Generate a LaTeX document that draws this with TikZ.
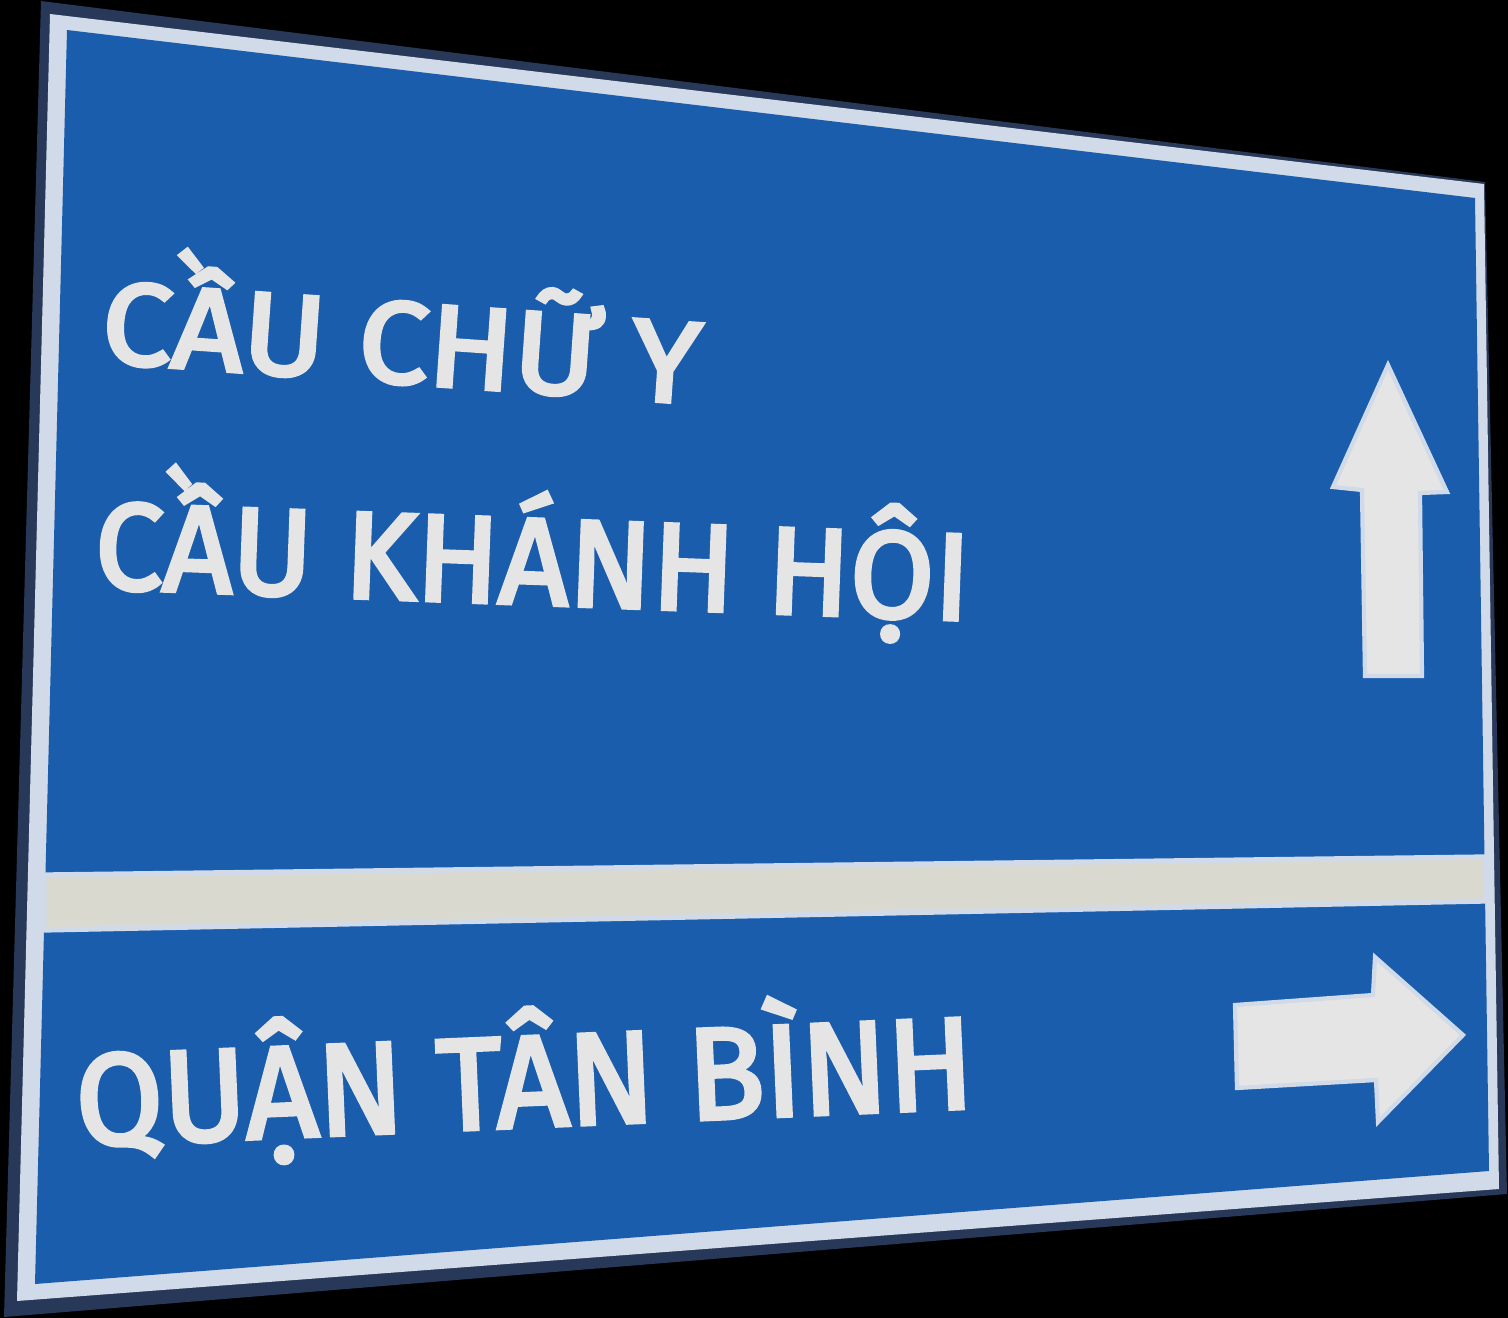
\documentclass[tikz,border=0pt]{standalone}
\usepackage{fontspec}
\setmainfont{Fira Sans}[FakeBold=3.5]
\definecolor{rim}{RGB}{40,56,88}
\definecolor{frame}{RGB}{208,218,232}
\definecolor{signblue}{RGB}{26,93,172}
\definecolor{band}{RGB}{218,217,208}
\definecolor{letter}{RGB}{229,229,229}

\begin{document}
\begin{tikzpicture}[x=0.01cm, y=-0.01cm,
  txt/.style={text=letter, inner sep=0pt, anchor=base west},
  arrowshape/.style={fill=letter, draw=frame, line width=1.2pt, line join=miter}]
\fill[black] (0, 0) rectangle (1508, 1318);
\useasboundingbox (0, 0) rectangle (1508, 1318);

%% 板面: 外缘, 白框, 蓝底
\coordinate (R1) at (41, 1);
\coordinate (R2) at (1485, 182);
\coordinate (R3) at (1507, 1194);
\coordinate (R4) at (4, 1317);
\fill[rim] (R1) -- (R2) -- (R3) -- (R4) -- cycle;

\fill[frame] (50, 14) -- (1484, 184) -- (1499, 1189) -- (17, 1301) -- cycle;
\fill[signblue] (67, 30) -- (1475, 198) -- (1489, 1171) -- (35, 1284) -- cycle;

%% 中间的横条
\fill[band, draw=frame, line width=1.5pt]
   (44, 875) -- (1485, 857) -- (1486, 901) -- (44, 930) -- cycle;

%% 箭头
\filldraw[arrowshape] (1388, 365) -- (1447, 492) -- (1420, 493) -- (1422, 676)
   -- (1365, 676) -- (1362, 490) -- (1333, 487) -- cycle;
\filldraw[arrowshape] (1463, 1035) -- (1378, 1122) -- (1376, 1080) -- (1237, 1088)
   -- (1235, 1005) -- (1373, 995) -- (1375, 957) -- cycle;

%% 文字, 用旋转近似透视
\node[txt, rotate=-4, xscale=1.08, font=\fontsize{33}{33}\selectfont] (L1) at (99, 362) {CẦU CHỮ Y};
\node[txt, rotate=-2.1, xscale=0.99, font=\fontsize{35}{35}\selectfont] (L2) at (93, 588) {CẦU KHÁNH HỘI};
\node[txt, rotate=2.45, xscale=0.97, font=\fontsize{37}{37}\selectfont] (L3) at (77, 1146) {QUẬN TÂN BÌNH};
\end{tikzpicture}
\end{document}
